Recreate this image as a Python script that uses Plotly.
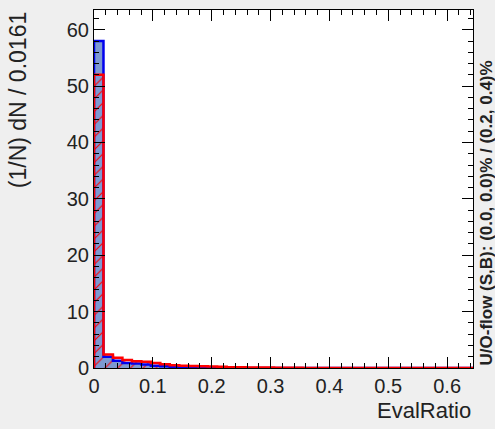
import plotly.graph_objects as go

# ---- data ----
bin_width = 0.0161
n_bins = 40
signal = [58.0, 2.0, 1.3, 0.9, 0.8, 0.6, 0.4, 0.3, 0.2, 0.1, 0.05] + [0.0] * 29
background = [52.0, 2.4, 1.8, 1.4, 1.2, 1.1, 0.9, 0.65, 0.5, 0.4, 0.35, 0.3, 0.25,
              0.2, 0.15, 0.15, 0.1, 0.1, 0.08, 0.05, 0.05, 0.03] + [0.0] * 18
x_ticks = [0, 0.1, 0.2, 0.3, 0.4, 0.5, 0.6]
x_ticklabels = ["0", "0.1", "0.2", "0.3", "0.4", "0.5", "0.6"]
y_ticks = [0, 10, 20, 30, 40, 50, 60]
x_title = "EvalRatio"
y_title = "(1/N) dN / 0.0161"
flow_text = "U/O-flow (S,B): (0.0, 0.0)% / (0.2, 0.4)%"

edges = [i * bin_width for i in range(n_bins + 1)]
centers = [(edges[i] + edges[i + 1]) / 2 for i in range(n_bins)]
xmax = edges[-1]
ymax = 63.5

FONT = "Liberation Sans, Arial, sans-serif"
TXT = "#222222"

fig = go.Figure()

fig.add_trace(go.Bar(x=centers, y=signal, width=[bin_width] * n_bins,
                     marker=dict(color="#7d99d1", line=dict(width=0)),
                     showlegend=False, hoverinfo="skip"))


def step(vals):
    xs = [edges[0]] + edges + [edges[-1]]
    ys = [0] + vals + [vals[-1], 0]
    return xs, ys


sx, sy = step(signal)
fig.add_trace(go.Scatter(x=sx, y=sy, mode="lines", line=dict(color="#0000ee", width=2.5, shape="hv"),
                         showlegend=False, hoverinfo="skip"))

fig.add_trace(go.Bar(x=centers, y=background, width=[bin_width] * n_bins,
                     marker=dict(color="rgba(0,0,0,0)", line=dict(width=0),
                                 pattern=dict(shape="/", fgcolor="#ff0000", bgcolor="rgba(0,0,0,0)",
                                              size=9, solidity=0.12, fillmode="replace")),
                     showlegend=False, hoverinfo="skip"))

bx, by = step(background)
fig.add_trace(go.Scatter(x=bx, y=by, mode="lines", line=dict(color="#ff0000", width=2.5, shape="hv"),
                         showlegend=False, hoverinfo="skip"))

# invisible trace to carry the mirrored (top/right) tick axes
fig.add_trace(go.Scatter(x=[0], y=[0], xaxis="x2", yaxis="y2", mode="markers",
                         marker=dict(opacity=0), showlegend=False, hoverinfo="skip"))

tick_common = dict(showgrid=False, zeroline=False, ticks="inside", tickcolor="black", tickwidth=1,
                   ticklen=11, tickfont=dict(family=FONT, size=20, color=TXT))

fig.update_layout(
    xaxis=dict(range=[0, xmax], tickvals=x_ticks, ticktext=x_ticklabels,
               showline=True, linecolor="black", linewidth=1, mirror=True,
               minor=dict(ticks="inside", ticklen=5, dtick=0.02, tick0=0, tickcolor="black", showgrid=False),
               **tick_common),
    yaxis=dict(range=[0, ymax], tickvals=y_ticks,
               showline=True, linecolor="black", linewidth=1, mirror=True,
               minor=dict(ticks="inside", ticklen=5, dtick=2, tick0=0, tickcolor="black", showgrid=False),
               **tick_common),
    xaxis2=dict(range=[0, xmax], tickvals=x_ticks, overlaying="x", side="top", showticklabels=False,
                showline=False, anchor="y2",
                minor=dict(ticks="inside", ticklen=5, dtick=0.02, tick0=0, tickcolor="black", showgrid=False),
                **tick_common),
    yaxis2=dict(range=[0, ymax], tickvals=y_ticks, overlaying="y", side="right", showticklabels=False,
                showline=False, anchor="x2",
                minor=dict(ticks="inside", ticklen=5, dtick=2, tick0=0, tickcolor="black", showgrid=False),
                **tick_common),
    width=495, height=429,
    margin=dict(l=94, r=22, t=10, b=61, pad=0),
    paper_bgcolor="#efefef", plot_bgcolor="white",
    barmode="overlay", bargap=0,
    font=dict(family=FONT, color=TXT),
    annotations=[
        dict(text=y_title, xref="paper", yref="paper", x=-0.2, y=1, xanchor="center", yanchor="top",
             textangle=-90, showarrow=False, font=dict(size=23, family=FONT, color=TXT)),
        dict(text=x_title, xref="paper", yref="paper", x=1, y=0, xanchor="right", yanchor="middle",
             yshift=-42, showarrow=False, font=dict(size=22, family=FONT, color=TXT)),
        dict(text="<b>" + flow_text + "</b>", xref="paper", yref="paper", x=1, y=0, xanchor="center",
             yanchor="bottom", xshift=13, textangle=-90, showarrow=False,
             font=dict(size=17, family=FONT, color=TXT)),
    ],
)

fig.write_html("out.html")
